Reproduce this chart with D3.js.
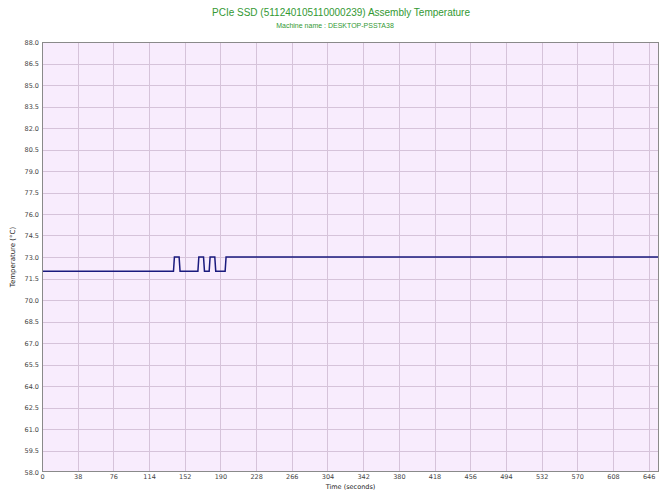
<!DOCTYPE html>
<html><head><meta charset="utf-8">
<script src="https://cdn.jsdelivr.net/npm/d3@7/dist/d3.min.js"></script>
<style>body{margin:0;background:#fff;}svg{display:block;}</style>
</head><body>
<script>
const title = "PCIe SSD (511240105110000239) Assembly Temperature";
const subtitle = "Machine name : DESKTOP-PSSTA38";
const xLabel = "Time (seconds)";
const yLabel = "Temperature (°C)";
const xTicks = [0,38,76,114,152,190,228,266,304,342,380,418,456,494,532,570,608,646];
const yTicks = [58.0,59.5,61.0,62.5,64.0,65.5,67.0,68.5,70.0,71.5,73.0,74.5,76.0,77.5,79.0,80.5,82.0,83.5,85.0,86.5,88.0];
const times = [0,140,141,146,147,166,167,172,173,178,179,184,185,195,196,657];
const temps = [72,72,73,73,72,72,73,73,72,72,73,73,72,72,73,73];

const W=670,H=503, L=42, R=659, T=42, B=472;
const svg=d3.select("body").append("svg").attr("width",W).attr("height",H);
const x=d3.scaleLinear().domain([0,657]).range([L,R]);
const y=d3.scaleLinear().domain([58,88]).range([B,T]);
const font="'DejaVu Sans', Verdana, sans-serif";
const tfont="'Liberation Sans', Arial, sans-serif";

svg.append("rect").attr("x",L).attr("y",T).attr("width",R-L).attr("height",B-T).attr("fill","#f8ecfd");
const g=svg.append("g");
g.selectAll("line.v").data(xTicks.slice(1)).join("line")
 .attr("x1",d=>Math.round(x(d))+0.5).attr("x2",d=>Math.round(x(d))+0.5).attr("y1",T).attr("y2",B)
 .attr("stroke","#d6c3da").attr("stroke-width",1);
g.selectAll("line.h").data(yTicks.slice(1,-1)).join("line")
 .attr("y1",d=>Math.round(y(d))+0.5).attr("y2",d=>Math.round(y(d))+0.5).attr("x1",L).attr("x2",R)
 .attr("stroke","#d6c3da").attr("stroke-width",1);

const line=d3.line().x((d,i)=>x(times[i])).y(d=>y(d));
svg.append("path").attr("d",line(temps)).attr("fill","none").attr("stroke","#1a1a7e").attr("stroke-width",1.5);

svg.append("rect").attr("x",L+0.5).attr("y",T+0.5).attr("width",R-L-1).attr("height",B-T-1)
 .attr("fill","none").attr("stroke","#8a8a8a").attr("stroke-width",1);

const xa=svg.append("g").attr("transform",`translate(0,${B})`)
 .call(d3.axisBottom(x).tickValues(xTicks).tickSize(0).tickPadding(2).tickFormat(d3.format("d")));
xa.select(".domain").remove();
xa.selectAll("text").attr("font-family",font).attr("font-size","6.5px").attr("fill","#444");
const ya=svg.append("g").attr("transform",`translate(${L},0)`)
 .call(d3.axisLeft(y).tickValues(yTicks).tickSize(0).tickPadding(3).tickFormat(d3.format(".1f")));
ya.select(".domain").remove();
ya.selectAll("text").attr("font-family",font).attr("font-size","6.5px").attr("fill","#444");

svg.append("text").attr("x",(L+R)/2).attr("y",489).attr("text-anchor","middle")
 .attr("font-family",font).attr("font-size","6.5px").attr("fill","#222").text(xLabel);
svg.append("text").attr("transform",`translate(15,${(T+B)/2}) rotate(-90)`).attr("text-anchor","middle")
 .attr("font-family",font).attr("font-size","7px").attr("fill","#222").text(yLabel);
svg.append("text").attr("x",341).attr("y",16).attr("text-anchor","middle")
 .attr("font-family",tfont).attr("font-size","10px").attr("fill","#339933").text(title);
svg.append("text").attr("x",335).attr("y",28).attr("text-anchor","middle")
 .attr("font-family",tfont).attr("font-size","7px").attr("fill","#339933").text(subtitle);
</script>
</body></html>
